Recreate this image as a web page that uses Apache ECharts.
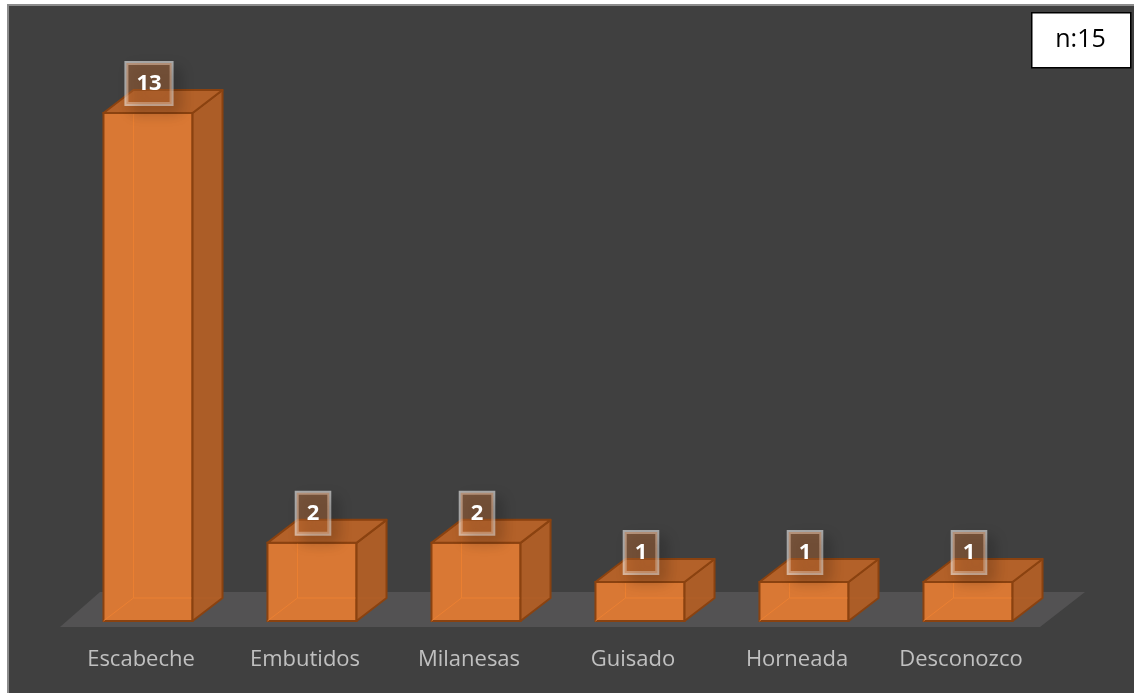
<!DOCTYPE html>
<html>
<head>
<meta charset="utf-8">
<script src="https://cdn.jsdelivr.net/npm/echarts@6/dist/echarts.min.js"></script>
<style>
  html, body { margin: 0; padding: 0; background: #ffffff; }
  #wrap { position: relative; width: 1134px; height: 693px; overflow: hidden; }
  #panel { position: absolute; left: 7px; top: 4px; width: 1140px; height: 700px;
           background: #404040; border-top: 2px solid #8c8c8c; border-left: 2px solid #8c8c8c; }
  #chart { position: absolute; left: 0; top: 0; width: 1134px; height: 693px; }
</style>
</head>
<body>
<div id="wrap">
  <div id="panel"></div>
  <div id="chart"></div>
</div>
<script>
// Preparaciones del pescado (n = 15)
const categories = ['Escabeche', 'Embutidos', 'Milanesas', 'Guisado', 'Horneada', 'Desconozco'];
const counts = [13, 2, 2, 1, 1, 1];
const sampleLabel = 'n:15';

const chart = echarts.init(document.getElementById('chart'), null, { renderer: 'canvas' });

const FONT = '"Open Sans", "DejaVu Sans", sans-serif';
const DEPTH_X = 30;   // oblique depth of each box
const DEPTH_Y = -23;

function renderFloor(params, api) {
  const cs = params.coordSys;
  const zeroY = api.coord([0, 0])[1];
  const left = cs.x, right = cs.x + cs.width;
  return {
    type: 'polygon',
    shape: {
      points: [
        [left - 6, zeroY + 6],
        [right - 10, zeroY + 6],
        [right + 35, zeroY - 29],
        [left + 34, zeroY - 29]
      ]
    },
    style: { fill: '#535253' },
    silent: true
  };
}

function renderBox(params, api) {
  const idx = api.value(0);
  const val = api.value(1);
  const base = api.coord([idx, 0]);
  const top = api.coord([idx, val]);
  const band = api.size([1, 0])[0];
  const w = band * 0.543;
  const x0 = base[0] - w / 2, x1 = x0 + w;
  const yT = top[1], yB = base[1];
  const dx = DEPTH_X, dy = DEPTH_Y;
  const edge = '#8a4210';
  return {
    type: 'group',
    children: [
      // front face
      { type: 'rect', shape: { x: x0, y: yT, width: w, height: yB - yT },
        style: { fill: 'rgba(222,122,52,0.97)', stroke: edge, lineWidth: 2 }, z2: 2 },
      // back edges showing faintly through the translucent box
      { type: 'polyline', shape: { points: [[x0, yB], [x0 + dx, yB + dy], [x1 + dx, yB + dy]] },
        style: { stroke: 'rgba(240,130,50,0.8)', lineWidth: 1, fill: null }, z2: 3 },
      { type: 'line', shape: { x1: x0 + dx, y1: yB + dy, x2: x0 + dx, y2: yT + dy },
        style: { stroke: 'rgba(240,130,50,0.8)', lineWidth: 1 }, z2: 3 },
      // right side
      { type: 'polygon', shape: { points: [[x1, yT], [x1 + dx, yT + dy], [x1 + dx, yB + dy], [x1, yB]] },
        style: { fill: 'rgba(175,94,38,0.97)', stroke: edge, lineWidth: 2, lineJoin: 'round' }, z2: 4 },
      // top face
      { type: 'polygon', shape: { points: [[x0, yT], [x0 + dx, yT + dy], [x1 + dx, yT + dy], [x1, yT]] },
        style: { fill: 'rgba(183,98,40,0.97)', stroke: edge, lineWidth: 2, lineJoin: 'round' }, z2: 4 },
      // value label
      { type: 'text', x: base[0] + 1, y: yT - 9, z2: 6,
        style: {
          text: String(val), align: 'center', verticalAlign: 'bottom',
          font: 'bold 22px ' + FONT, fill: '#ffffff', lineHeight: 24,
          backgroundColor: 'rgba(200,112,52,0.40)', borderColor: 'rgba(255,255,255,0.55)', borderWidth: 2,
          padding: [9, 10, 8, 10],
          shadowColor: 'rgba(0,0,0,0.4)', shadowBlur: 14, shadowOffsetX: 7, shadowOffsetY: 7
        } }
    ]
  };
}

chart.setOption({
  backgroundColor: 'transparent',
  animation: false,
  grid: { left: 66, right: 84, top: 74, bottom: 72 },
  xAxis: {
    type: 'category',
    data: categories,
    axisLine: { show: false },
    axisTick: { show: false },
    axisLabel: {
      color: '#c0c0c0', fontFamily: FONT, fontSize: 22, lineHeight: 24,
      margin: 27, padding: [0, 14, 0, 0]
    },
    splitLine: { show: false }
  },
  yAxis: {
    type: 'value', min: 0, max: 14, interval: 1,
    show: false, splitLine: { show: false }
  },
  series: [
    { type: 'custom', renderItem: renderFloor, data: [[0]], z: 1, silent: true },
    { type: 'custom', renderItem: renderBox, z: 2,
      encode: { x: 0, y: 1 },
      data: counts.map((v, i) => [i, v]) }
  ],
  graphic: [
    { type: 'rect', left: 1031, top: 12, shape: { width: 99, height: 55 },
      style: { fill: '#ffffff', stroke: '#000000', lineWidth: 1.5 }, z: 10 },
    { type: 'text', x: 1080.5, y: 40, z: 11,
      style: { text: sampleLabel, font: '25px ' + FONT, fill: '#000000', align: 'center', verticalAlign: 'middle' } }
  ]
});
</script>
</body>
</html>
